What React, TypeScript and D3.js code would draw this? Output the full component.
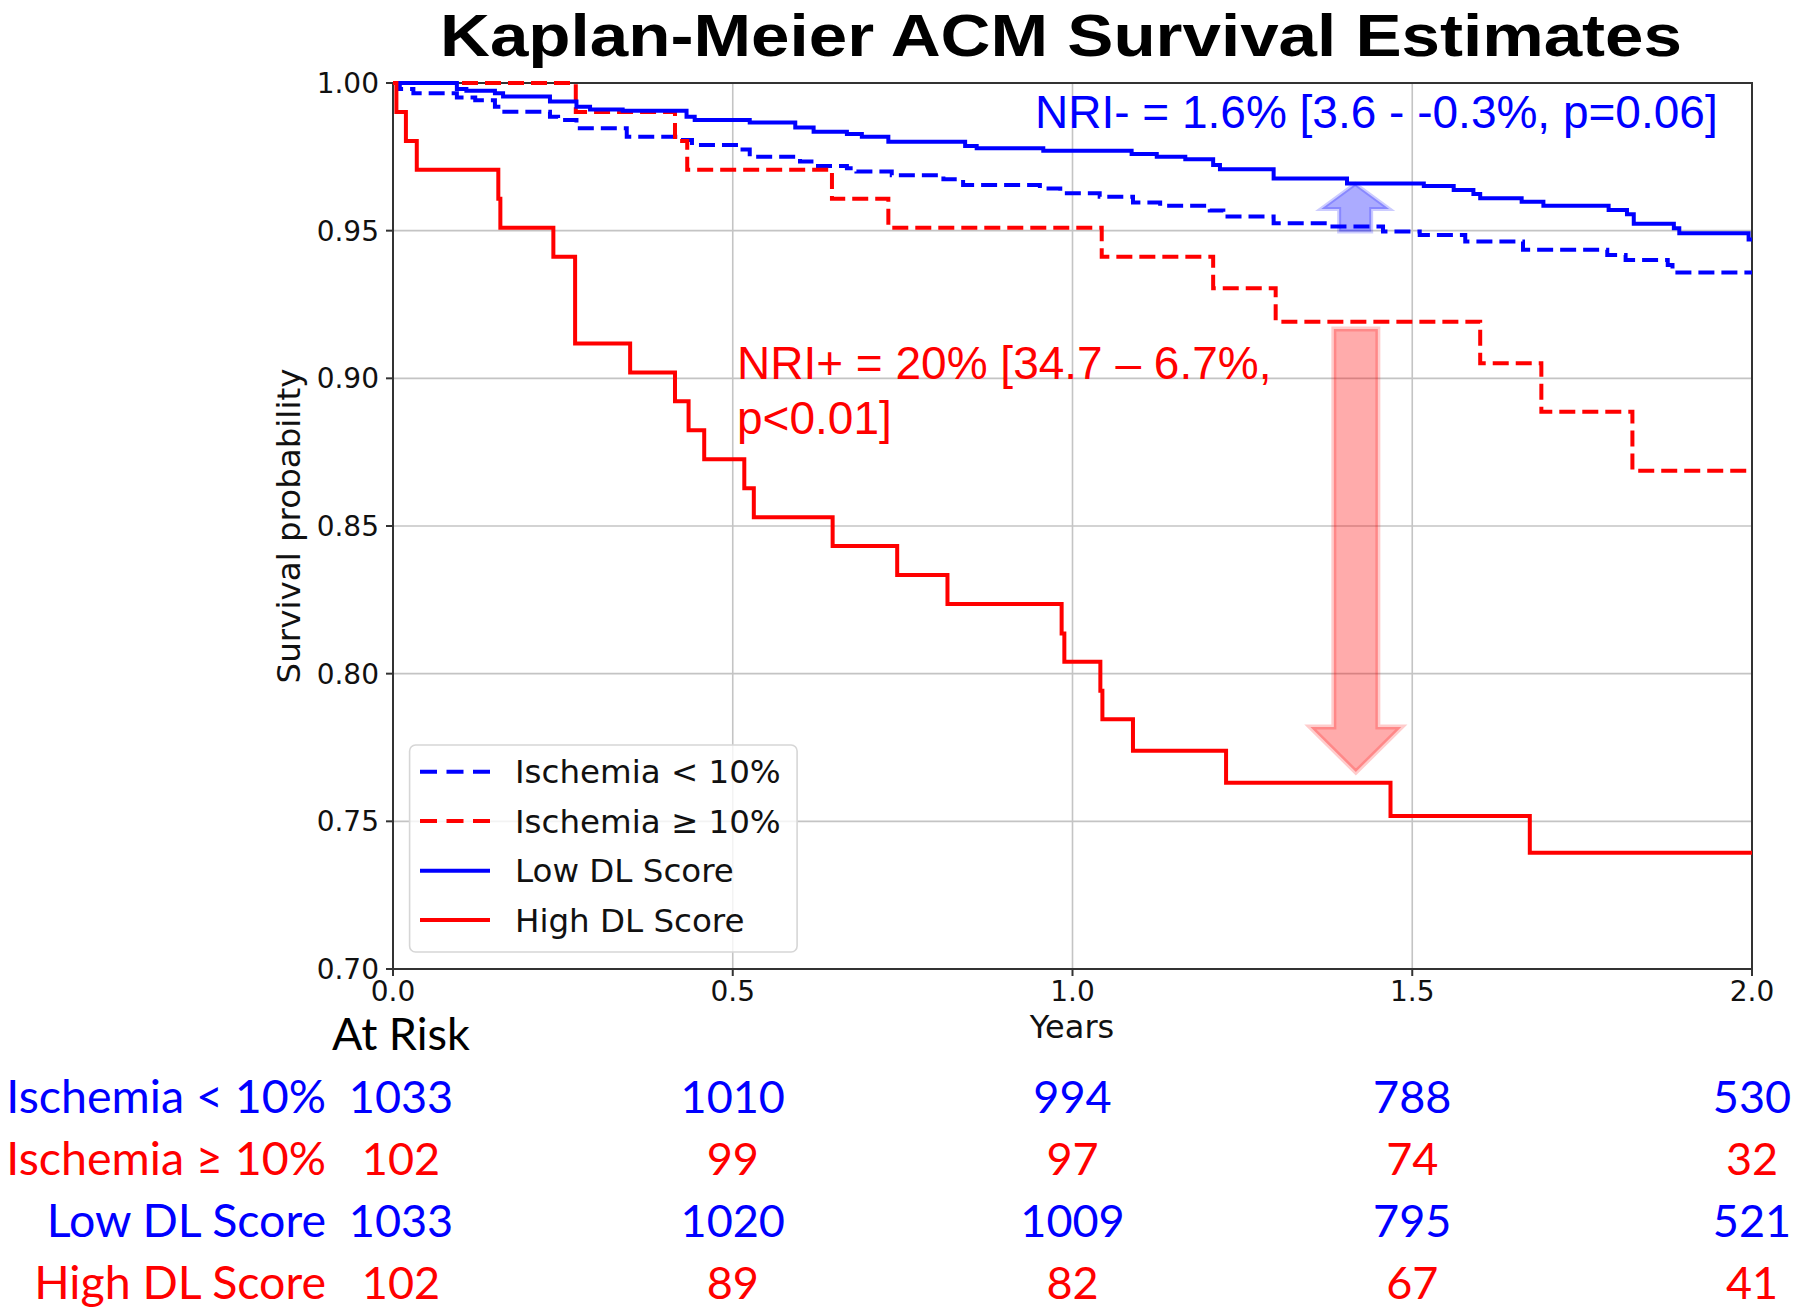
import React from "react";
import * as d3 from "d3";

// ---------- data ----------
const xTicks = [0, 0.5, 1.0, 1.5, 2.0];
const xTickLabels = ["0.0", "0.5", "1.0", "1.5", "2.0"];
const yTicks = [0.7, 0.75, 0.8, 0.85, 0.9, 0.95, 1.0];
const yTickLabels = ["0.70", "0.75", "0.80", "0.85", "0.90", "0.95", "1.00"];

// Ischemia < 10% (blue dashed)
const ischLowT = [0.010, 0.030, 0.094, 0.121, 0.150, 0.160, 0.231, 0.243, 0.270, 0.344, 0.422, 0.440, 0.511, 0.525, 0.599, 0.619, 0.668, 0.682, 0.734, 0.810, 0.839, 0.952, 0.982, 1.040, 1.089, 1.129, 1.202, 1.222, 1.296, 1.379, 1.457, 1.511, 1.578, 1.663, 1.787, 1.814, 1.876, 1.883];
const ischLowS = [0.998, 0.9965, 0.9951, 0.9942, 0.992, 0.9903, 0.9886, 0.9875, 0.9847, 0.9818, 0.9807, 0.979, 0.9775, 0.975, 0.9734, 0.9719, 0.9711, 0.970, 0.9688, 0.9674, 0.9655, 0.9643, 0.9627, 0.9615, 0.9595, 0.9584, 0.9568, 0.9548, 0.9525, 0.9514, 0.9497, 0.9485, 0.9463, 0.9435, 0.9418, 0.9401, 0.9384, 0.9358];

// Ischemia >= 10% (red dashed)
const ischHighT = [0.269, 0.415, 0.433, 0.646, 0.729, 1.043, 1.207, 1.299, 1.600, 1.690, 1.824];
const ischHighS = [0.9902, 0.9804, 0.9706, 0.9608, 0.9510, 0.9412, 0.9305, 0.9192, 0.9051, 0.8887, 0.8687];

// Low DL Score (blue solid)
const dlLowT = [0.094, 0.108, 0.150, 0.162, 0.231, 0.270, 0.290, 0.338, 0.432, 0.444, 0.525, 0.592, 0.619, 0.668, 0.690, 0.729, 0.842, 0.859, 0.957, 1.087, 1.124, 1.166, 1.207, 1.217, 1.296, 1.404, 1.517, 1.561, 1.590, 1.600, 1.661, 1.693, 1.789, 1.816, 1.826, 1.885, 1.893, 1.995];
const dlLowS = [0.998, 0.9974, 0.9965, 0.9954, 0.9937, 0.992, 0.991, 0.9906, 0.9886, 0.9875, 0.9866, 0.9849, 0.9835, 0.9827, 0.9818, 0.9801, 0.9787, 0.9779, 0.9771, 0.976, 0.975, 0.9742, 0.9722, 0.9708, 0.9677, 0.966, 0.9651, 0.9638, 0.9624, 0.961, 0.9598, 0.9584, 0.957, 0.9556, 0.9523, 0.9508, 0.9491, 0.947];

// High DL Score (red solid)
const dlHighT = [0.005, 0.019, 0.035, 0.155, 0.158, 0.236, 0.268, 0.349, 0.415, 0.435, 0.458, 0.517, 0.531, 0.647, 0.742, 0.816, 0.984, 0.988, 1.041, 1.044, 1.089, 1.226, 1.468, 1.673];
const dlHighS = [0.9902, 0.9804, 0.9706, 0.9608, 0.9510, 0.9412, 0.9118, 0.9020, 0.8922, 0.8824, 0.8726, 0.8628, 0.8530, 0.8432, 0.8334, 0.8236, 0.8136, 0.8040, 0.7942, 0.7846, 0.7739, 0.7631, 0.7518, 0.7394];

const seriesNames = ["Ischemia < 10%", "Ischemia \u2265 10%", "Low DL Score", "High DL Score"];
const seriesColors = ["#0000ff", "#ff0000", "#0000ff", "#ff0000"];
const seriesDashed = [true, true, false, false];

// At-risk table
const riskTimes = [0, 0.5, 1.0, 1.5, 2.0];
const riskIschLow = [1033, 1010, 994, 788, 530];
const riskIschHigh = [102, 99, 97, 74, 32];
const riskDlLow = [1033, 1020, 1009, 795, 521];
const riskDlHigh = [102, 89, 82, 67, 41];

// Arrow annotations (data coordinates)
const blueArrow = { t: 1.416, from: 0.9497, to: 0.9658 };
const redArrow = { t: 1.417, from: 0.9167, to: 0.7667 };

// ---------- layout ----------
const W = 1800;
const H = 1316;
const left = 393;
const right = 1752;
const top = 83;
const bottom = 969;

const x = d3.scaleLinear().domain([0, 2]).range([left, right]);
const y = d3.scaleLinear().domain([0.7, 1.0]).range([bottom, top]);

function stepPath(ts: number[], ss: number[]) {
  const pts: [number, number][] = [[0, 1]];
  ts.forEach((t, i) => pts.push([t, ss[i]]));
  pts.push([2, ss[ss.length - 1]]);
  return d3
    .line<[number, number]>()
    .x((d) => x(d[0]))
    .y((d) => y(d[1]))
    .curve(d3.curveStepAfter)(pts) as string;
}

function arrowPath(t: number, from: number, to: number, sw: number, hw: number, hl: number) {
  const cx = x(t);
  const y0 = y(from);
  const y1 = y(to);
  const dir = y1 < y0 ? 1 : -1;
  const yb = y1 + dir * hl;
  const pts: [number, number][] = [
    [cx - sw, y0],
    [cx - sw, yb],
    [cx - hw, yb],
    [cx, y1],
    [cx + hw, yb],
    [cx + sw, yb],
    [cx + sw, y0],
  ];
  return d3.line()(pts) + "Z";
}

const tickFont = "'DejaVu Sans', sans-serif";
const arial = "'Liberation Sans', Arial, sans-serif";
const tableFont = "Lato, 'Open Sans', sans-serif";

export default function App() {
  const series = [
    { t: ischLowT, s: ischLowS },
    { t: ischHighT, s: ischHighS },
    { t: dlLowT, s: dlLowS },
    { t: dlHighT, s: dlHighS },
  ];
  const riskRows = [riskIschLow, riskIschHigh, riskDlLow, riskDlHigh];
  const rowBase = [1113, 1175, 1237, 1299];
  const legendRowY = [771.7, 821, 870.7, 920];

  return (
    <svg
      width={W}
      height={H}
      viewBox={`0 0 ${W} ${H}`}
      style={{ position: "absolute", left: 0, top: 0, background: "#fff" }}
    >
      <rect x={0} y={0} width={W} height={H} fill="#fff" />
      {/* title */}
      <text
        x={440}
        y={56}
        fontFamily={arial}
        fontWeight="bold"
        fontSize={60}
        textLength={1242}
        lengthAdjust="spacingAndGlyphs"
        fill="#000"
      >
        Kaplan-Meier ACM Survival Estimates
      </text>

      {/* grid */}
      {xTicks.map((t) => (
        <line key={"gx" + t} x1={x(t)} x2={x(t)} y1={top} y2={bottom} stroke="#c4c4c4" strokeWidth={1.6} />
      ))}
      {yTicks.map((v) => (
        <line key={"gy" + v} x1={left} x2={right} y1={y(v)} y2={y(v)} stroke="#c4c4c4" strokeWidth={1.6} />
      ))}

      {/* arrows */}
      <path
        d={arrowPath(blueArrow.t, blueArrow.from, blueArrow.to, 16, 34, 25)}
        fill="#0000ff"
        fillOpacity={0.33}
        stroke="#0000ff"
        strokeOpacity={0.2}
        strokeWidth={4}
      />
      <path
        d={arrowPath(redArrow.t, redArrow.from, redArrow.to, 22, 45.5, 45)}
        fill="#ff0000"
        fillOpacity={0.33}
        stroke="#ff0000"
        strokeOpacity={0.2}
        strokeWidth={5}
      />

      {/* frame */}
      <rect x={left} y={top} width={right - left} height={bottom - top} fill="none" stroke="#333" strokeWidth={2} />

      {/* ticks */}
      {xTicks.map((t, i) => (
        <g key={"xt" + t}>
          <line x1={x(t)} x2={x(t)} y1={bottom} y2={bottom + 7} stroke="#333" strokeWidth={2} />
          <text x={x(t)} y={1001} textAnchor="middle" fontFamily={tickFont} fontSize={28} fill="#111">
            {xTickLabels[i]}
          </text>
        </g>
      ))}
      {yTicks.map((v, i) => (
        <g key={"yt" + v}>
          <line x1={left - 7} x2={left} y1={y(v)} y2={y(v)} stroke="#333" strokeWidth={2} />
          <text x={379} y={y(v) + 10} textAnchor="end" fontFamily={tickFont} fontSize={28} fill="#111">
            {yTickLabels[i]}
          </text>
        </g>
      ))}

      {/* axis labels */}
      <text x={1072} y={1038} textAnchor="middle" fontFamily={tickFont} fontSize={32} fill="#111">
        Years
      </text>
      <text
        transform={`translate(300, ${(top + bottom) / 2}) rotate(-90)`}
        textAnchor="middle"
        fontFamily={tickFont}
        fontSize={32.5}
        fill="#111"
      >
        Survival probability
      </text>

      {/* curves */}
      {series.map((s, i) => (
        <path
          key={"s" + i}
          d={stepPath(s.t, s.s)}
          fill="none"
          stroke={seriesColors[i]}
          strokeWidth={4}
          strokeDasharray={seriesDashed[i] ? "16 7" : undefined}
          strokeLinejoin="miter"
        />
      ))}

      {/* NRI annotations */}
      <text x={1035} y={128} fontFamily={arial} fontSize={46} fill="#0000ff">
        NRI- = 1.6% [3.6 - -0.3%, p=0.06]
      </text>
      <text x={737} y={379} fontFamily={arial} fontSize={46} fill="#ff0000">
        NRI+ = 20% [34.7 – 6.7%,
      </text>
      <text x={737} y={434} fontFamily={arial} fontSize={46} fill="#ff0000">
        p&lt;0.01]
      </text>

      {/* legend */}
      <rect x={409.6} y={745} width={387.5} height={207} rx={6} fill="#fff" fillOpacity={0.8} stroke="#d6d6d6" strokeWidth={1.6} />
      {seriesNames.map((n, i) => (
        <g key={"lg" + i}>
          <line
            x1={420}
            x2={490}
            y1={legendRowY[i]}
            y2={legendRowY[i]}
            stroke={seriesColors[i]}
            strokeWidth={4}
            strokeDasharray={seriesDashed[i] ? "17 9.5" : undefined}
          />
          <text x={515} y={legendRowY[i] + 11.7} fontFamily={tickFont} fontSize={32.5} fill="#111">
            {n}
          </text>
        </g>
      ))}

      {/* at risk table */}
      <text x={x(0) + 8} y={1050} textAnchor="middle" fontFamily={tableFont} fontSize={45} fill="#000">
        At Risk
      </text>
      {riskRows.map((row, r) => (
        <g key={"rr" + r}>
          <text x={326} y={rowBase[r]} textAnchor="end" fontFamily={tableFont} fontSize={46.5} fill={seriesColors[r]}>
            {seriesNames[r]}
          </text>
          {row.map((v, c) => (
            <text
              key={"rc" + c}
              x={x(riskTimes[c]) + (c === 0 ? 8 : 0)}
              y={rowBase[r]}
              textAnchor="middle"
              fontFamily={tableFont}
              fontSize={45}
              fill={seriesColors[r]}
            >
              {v}
            </text>
          ))}
        </g>
      ))}
    </svg>
  );
}
